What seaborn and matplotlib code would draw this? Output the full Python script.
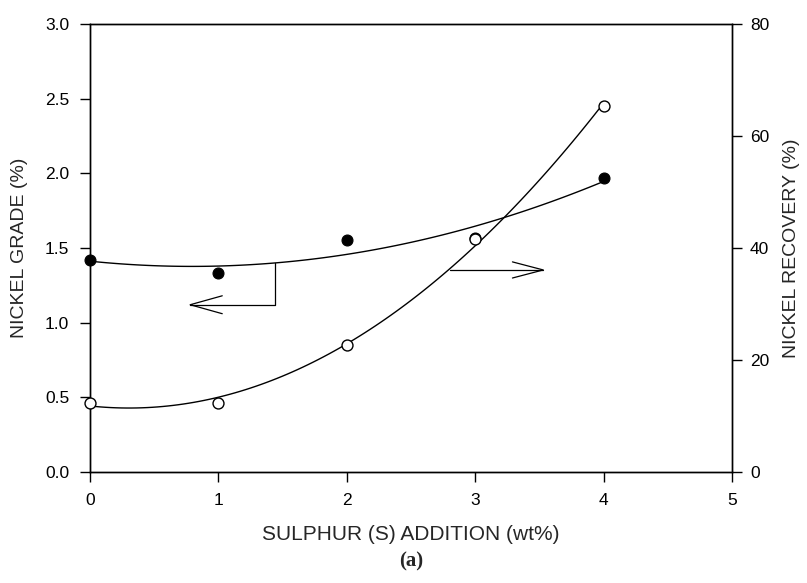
import numpy as np
import pandas as pd
import matplotlib
matplotlib.use("Agg")
import matplotlib.pyplot as plt
import seaborn as sns

# Sulphur addition (wt%) and the two measured responses
sulphur = [0, 1, 2, 3, 4]
nickel_grade = [1.42, 1.33, 1.555, 1.565, 1.97]        # %
nickel_recovery = [12.3, 12.4, 22.7, 41.6, 65.3]       # %

x_ticks = [0, 1, 2, 3, 4, 5]
grade_ticks = [0.0, 0.5, 1.0, 1.5, 2.0, 2.5, 3.0]
recovery_ticks = [0, 20, 40, 60, 80]

df = pd.DataFrame({"sulphur": sulphur, "grade": nickel_grade,
                   "recovery": nickel_recovery})

sns.set_style("ticks")
plt.rcParams["font.family"] = ["Liberation Sans", "DejaVu Sans"]

fig = plt.figure(figsize=(8.07, 5.83), dpi=100)
ax = fig.add_axes([90 / 807, 1 - 472 / 583, (732 - 90) / 807, (472 - 24) / 583])
ax2 = ax.twinx()

# Grade: filled circles with a second-order regression curve
sns.regplot(data=df, x="sulphur", y="grade", order=2, ci=None, ax=ax,
            scatter_kws=dict(s=62, color="black", edgecolor="black",
                             linewidths=0.8, alpha=1, zorder=3, clip_on=False),
            line_kws=dict(color="black", lw=1.0))

# Recovery: open circles with a second-order regression curve
sns.regplot(data=df, x="sulphur", y="recovery", order=2, ci=None, ax=ax2,
            scatter_kws=dict(s=62, facecolor="white", edgecolor="black",
                             linewidths=1.0, alpha=1, zorder=3, clip_on=False),
            line_kws=dict(color="black", lw=1.0))

ax.set_xlim(0, 5)
ax.set_ylim(0, 3.0)
ax2.set_ylim(0, 80)
ax.set_xticks(x_ticks)
ax.set_yticks(grade_ticks)
ax.set_yticklabels([f"{v:.1f}" for v in grade_ticks])
ax2.set_yticks(recovery_ticks)

ax.set_xlabel("SULPHUR (S) ADDITION (wt%)", fontsize=15, labelpad=12)
ax.set_ylabel("NICKEL GRADE (%)", fontsize=14, labelpad=12)
ax2.set_ylabel("NICKEL RECOVERY (%)", fontsize=14, labelpad=10)

for a in (ax, ax2):
    a.tick_params(direction="out", length=7, width=1, labelsize=12.5,
                  colors="black", pad=6)
    for s in a.spines.values():
        s.set_visible(True)
        s.set_linewidth(1.0)
        s.set_color("black")
ax.tick_params(axis="y", pad=8)
ax.tick_params(axis="x", pad=8)

# Pointer to the grade axis: drop from the grade curve, then left
coef = np.polyfit(sulphur, nickel_grade, 2)
xv = 1.44
y_top = np.polyval(coef, xv)
ax.plot([xv, xv, 0.78], [y_top, 1.12, 1.12], color="black", lw=0.9)
ax.plot([1.03, 0.78, 1.03], [1.18, 1.12, 1.06], color="black", lw=0.9)

# Pointer to the recovery axis: from the recovery curve to the right
ax.plot([2.80, 3.53], [1.353, 1.353], color="black", lw=0.9)
ax.plot([3.29, 3.53, 3.29], [1.407, 1.353, 1.299], color="black", lw=0.9)

ax.set_zorder(ax2.get_zorder() - 1)
ax2.patch.set_visible(False)

fig.text(0.5 * (90 + 732) / 807, 1 - 561 / 583, "(a)", ha="center", va="center",
         fontsize=15, fontweight="bold", family=["Liberation Serif", "DejaVu Serif"])

fig.savefig("out.png", dpi=100)
